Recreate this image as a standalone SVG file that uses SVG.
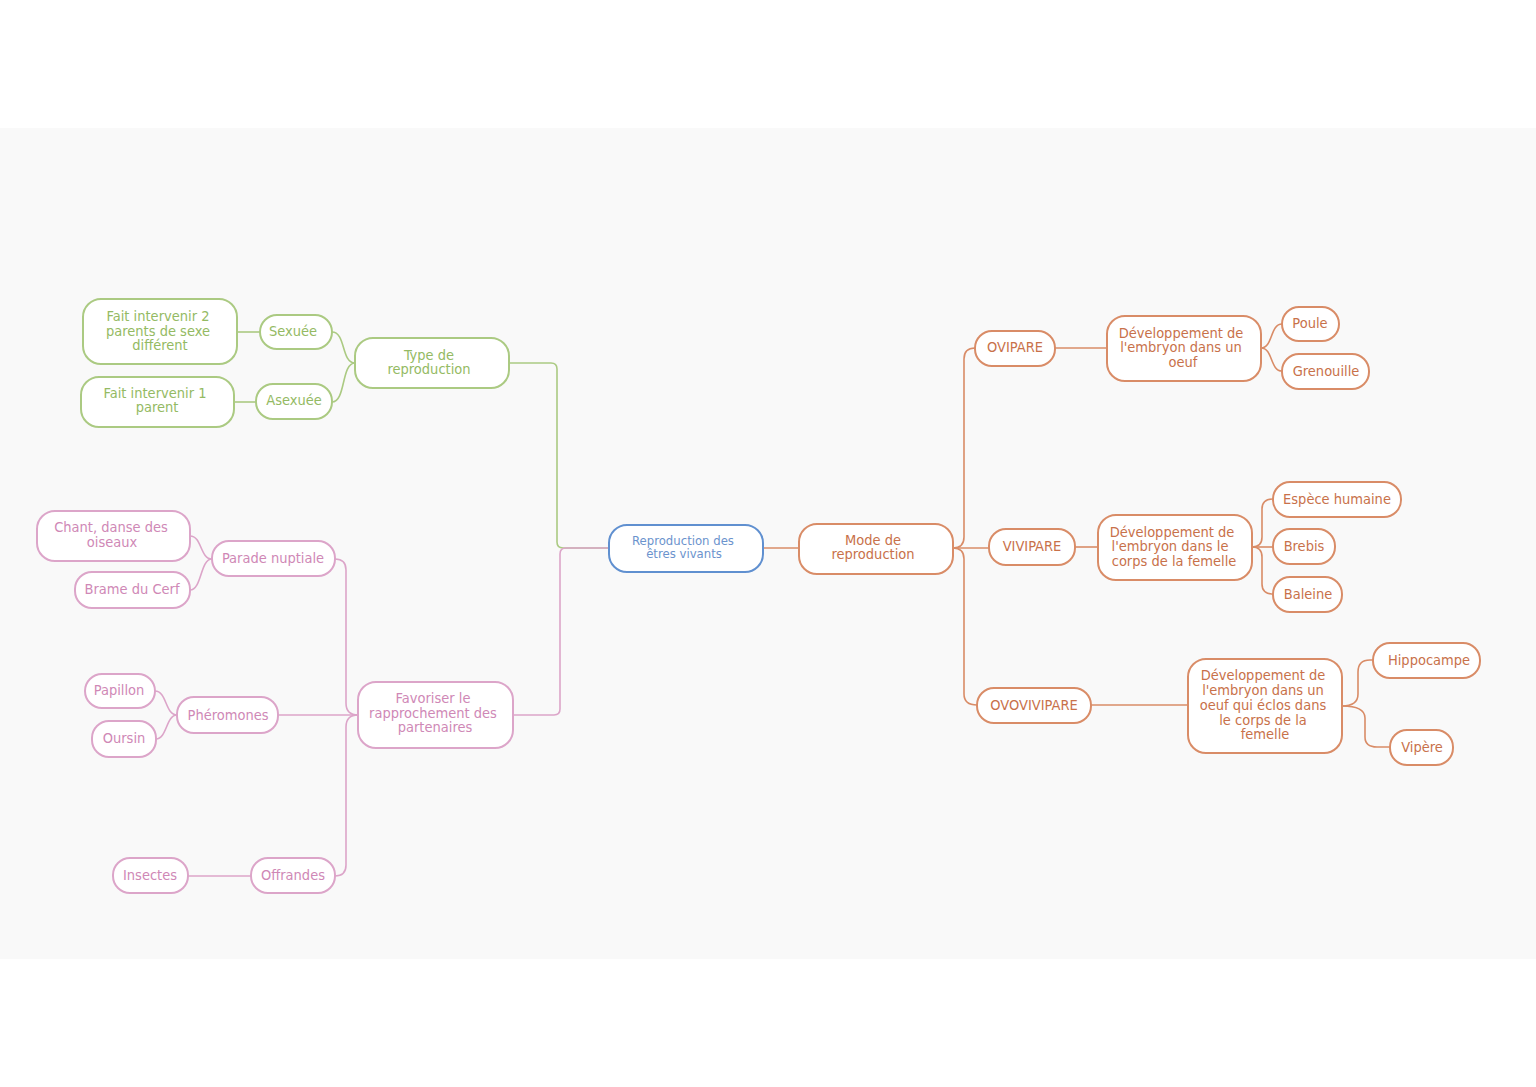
<svg xmlns="http://www.w3.org/2000/svg" width="1536" height="1087" viewBox="0 0 1536 1087">
<style>
.n rect{fill:#fff;stroke-width:2}
.g rect{stroke:#abca82}
.g text{fill:#94ba63}
.p rect{stroke:#dca5c9}
.p text{fill:#cf88b6}
.o rect{stroke:#d98c67}
.o text{fill:#c8714a}
.b rect{stroke:#6090d0}
.b text{fill:#6b93cd;font-size:13px}
text{font-family:"DejaVu Sans Condensed","DejaVu Sans",Verdana,sans-serif;font-size:14.5px;text-anchor:middle}
#conn path{fill:none;stroke-width:1.6}
.cg{stroke:#abca82}.cp{stroke:#dca5c9}.co{stroke:#d98c67}
</style>
<rect x="0" y="0" width="1536" height="1087" fill="#fff"/>
<rect x="0" y="128" width="1536" height="831" fill="#f9f9f9"/>
<g id="conn">
<path class="cg" d="M332,332 C346,332 341,363 355,363"/>
<path class="cg" d="M332,402 C346,402 341,363 355,363"/>
<path class="cg" d="M237,332 H260"/>
<path class="cg" d="M234,402 H256"/>
<path class="cg" d="M509,363 H551 Q557,363 557,369 V542 Q557,548 563,548 H609"/>
<path class="cp" d="M513,715 H554 Q560,715 560,709 V554 Q560,548 566,548 H609"/>
<path class="cp" d="M335,559 Q346,559 346,570 V703 Q346,715 358,715"/>
<path class="cp" d="M278,715 H358"/>
<path class="cp" d="M335,876 Q346,876 346,865 V727 Q346,715 358,715"/>
<path class="cp" d="M212,559 C200,559 202,536 190,536"/>
<path class="cp" d="M212,559 C200,559 202,590 190,590"/>
<path class="cp" d="M177,715 C165,715 167,691 155,691"/>
<path class="cp" d="M177,715 C166,715 167,739 156,739"/>
<path class="cp" d="M188,876 H251"/>
<path class="co" d="M763,548 H799"/>
<path class="co" d="M953,548 Q964,548 964,537 V359 Q964,348 975,348"/>
<path class="co" d="M953,548 Q964,548 964,559 V694 Q964,705 977,705"/>
<path class="co" d="M953,548 H989"/>
<path class="co" d="M1055,348 H1107"/>
<path class="co" d="M1261,348 C1273,348 1270,324 1282,324"/>
<path class="co" d="M1261,348 C1273,348 1270,371 1282,371"/>
<path class="co" d="M1075,547 H1098"/>
<path class="co" d="M1252,547 Q1262,547 1262,537 V509 Q1262,499 1273,499"/>
<path class="co" d="M1252,547 H1273"/>
<path class="co" d="M1252,547 Q1262,547 1262,557 V584 Q1262,594 1273,594"/>
<path class="co" d="M1091,705 H1188"/>
<path class="co" d="M1342,706 Q1358,706 1358,694 V672 Q1358,660 1370,660 H1373"/>
<path class="co" d="M1342,706 Q1365,706 1365,718 V737 Q1365,747 1377,747 H1390"/>
</g>
<g id="n-center" class="n b"><rect x="609" y="525" width="154" height="47" rx="18"/><text x="683" y="545">Reproduction des</text><text x="684" y="558">êtres vivants</text></g>
<g id="n-type" class="n g"><rect x="355" y="338" width="154" height="50" rx="18"/><text x="429" y="360">Type de</text><text x="429" y="374">reproduction</text></g>
<g id="n-sexuee" class="n g"><rect x="260" y="315" width="72" height="34" rx="17"/><text x="293" y="336">Sexuée</text></g>
<g id="n-asexuee" class="n g"><rect x="256" y="384" width="76" height="35" rx="17"/><text x="294" y="405">Asexuée</text></g>
<g id="n-fait2" class="n g"><rect x="83" y="299" width="154" height="65" rx="18"/><text x="158" y="321">Fait intervenir 2</text><text x="158" y="335.5">parents de sexe</text><text x="160" y="350">différent</text></g>
<g id="n-fait1" class="n g"><rect x="81" y="377" width="153" height="50" rx="18"/><text x="155" y="398">Fait intervenir 1</text><text x="157" y="412">parent</text></g>
<g id="n-favoriser" class="n p"><rect x="358" y="682" width="155" height="66" rx="18"/><text x="433" y="703">Favoriser le</text><text x="433" y="718">rapprochement des</text><text x="435" y="732">partenaires</text></g>
<g id="n-parade" class="n p"><rect x="212" y="541" width="123" height="35" rx="17"/><text x="273" y="563">Parade nuptiale</text></g>
<g id="n-chant" class="n p"><rect x="37" y="511" width="153" height="50" rx="18"/><text x="111" y="532">Chant, danse des</text><text x="112" y="547">oiseaux</text></g>
<g id="n-brame" class="n p"><rect x="75" y="572" width="115" height="36" rx="17"/><text x="132" y="594">Brame du Cerf</text></g>
<g id="n-pheromones" class="n p"><rect x="177" y="697" width="101" height="36" rx="17"/><text x="228" y="720">Phéromones</text></g>
<g id="n-papillon" class="n p"><rect x="85" y="674" width="70" height="34" rx="17"/><text x="119" y="695">Papillon</text></g>
<g id="n-oursin" class="n p"><rect x="92" y="721" width="64" height="36" rx="17"/><text x="124" y="743">Oursin</text></g>
<g id="n-offrandes" class="n p"><rect x="251" y="858" width="84" height="35" rx="17"/><text x="293" y="880">Offrandes</text></g>
<g id="n-insectes" class="n p"><rect x="113" y="858" width="75" height="35" rx="17"/><text x="150" y="880">Insectes</text></g>
<g id="n-mode" class="n o"><rect x="799" y="524" width="154" height="50" rx="18"/><text x="873" y="545">Mode de</text><text x="873" y="559">reproduction</text></g>
<g id="n-ovipare" class="n o"><rect x="975" y="331" width="80" height="35" rx="17"/><text x="1015" y="352">OVIPARE</text></g>
<g id="n-dev1" class="n o"><rect x="1107" y="316" width="154" height="65" rx="18"/><text x="1181" y="338">Développement de</text><text x="1181" y="352">l'embryon dans un</text><text x="1183" y="367">oeuf</text></g>
<g id="n-poule" class="n o"><rect x="1282" y="307" width="57" height="34" rx="17"/><text x="1310" y="328">Poule</text></g>
<g id="n-grenouille" class="n o"><rect x="1282" y="354" width="87" height="35" rx="17"/><text x="1326" y="376">Grenouille</text></g>
<g id="n-vivipare" class="n o"><rect x="989" y="529" width="86" height="36" rx="17"/><text x="1032" y="551">VIVIPARE</text></g>
<g id="n-dev2" class="n o"><rect x="1098" y="515" width="154" height="65" rx="18"/><text x="1172" y="537">Développement de</text><text x="1170" y="551">l'embryon dans le</text><text x="1174" y="566">corps de la femelle</text></g>
<g id="n-espece" class="n o"><rect x="1273" y="482" width="128" height="35" rx="17"/><text x="1337" y="504">Espèce humaine</text></g>
<g id="n-brebis" class="n o"><rect x="1273" y="529" width="62" height="35" rx="17"/><text x="1304" y="551">Brebis</text></g>
<g id="n-baleine" class="n o"><rect x="1273" y="577" width="69" height="35" rx="17"/><text x="1308" y="599">Baleine</text></g>
<g id="n-ovovivipare" class="n o"><rect x="977" y="688" width="114" height="35" rx="17"/><text x="1034" y="710">OVOVIVIPARE</text></g>
<g id="n-dev3" class="n o"><rect x="1188" y="659" width="154" height="94" rx="18"/><text x="1263" y="680">Développement de</text><text x="1263" y="695">l'embryon dans un</text><text x="1263" y="710">oeuf qui éclos dans</text><text x="1263" y="725">le corps de la</text><text x="1265" y="739">femelle</text></g>
<g id="n-hippocampe" class="n o"><rect x="1373" y="643" width="107" height="35" rx="17"/><text x="1429" y="665">Hippocampe</text></g>
<g id="n-vipere" class="n o"><rect x="1390" y="730" width="63" height="35" rx="17"/><text x="1422" y="752">Vipère</text></g>
</svg>
